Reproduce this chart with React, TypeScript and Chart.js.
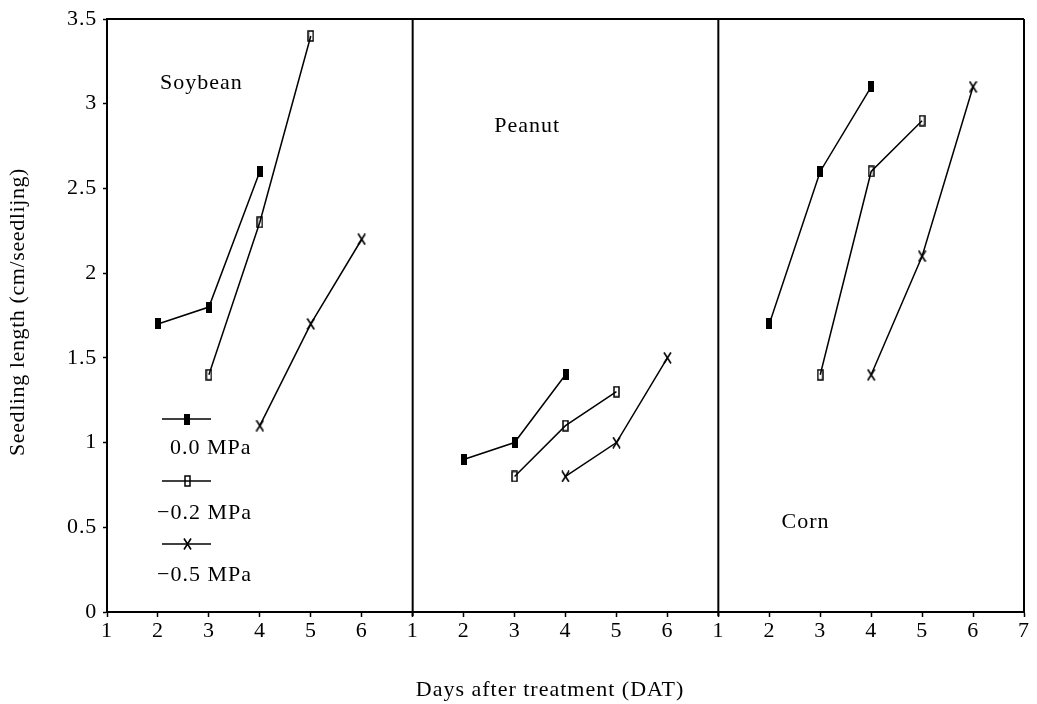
import React, { useEffect, useRef } from 'react';
import { Chart, registerables } from 'chart.js';

Chart.register(...registerables);

// ---- data ----
const panelNames = ['Soybean', 'Peanut', 'Corn'];
const seriesLabels = ['0.0 MPa', '\u22120.2 MPa', '\u22120.5 MPa'];
const days00 = [2, 3, 4];
const days02 = [3, 4, 5];
const days05 = [4, 5, 6];
const soybean00 = [1.7, 1.8, 2.6];
const soybean02 = [1.4, 2.3, 3.4];
const soybean05 = [1.1, 1.7, 2.2];
const peanut00 = [0.9, 1.0, 1.4];
const peanut02 = [0.8, 1.1, 1.3];
const peanut05 = [0.8, 1.0, 1.5];
const corn00 = [1.7, 2.6, 3.1];
const corn02 = [1.4, 2.6, 2.9];
const corn05 = [1.4, 2.1, 3.1];
const xTickLabels = ['1', '2', '3', '4', '5', '6', '1', '2', '3', '4', '5', '6', '1', '2', '3', '4', '5', '6', '7'];
const yTickLabels = ['0', '0.5', '1', '1.5', '2', '2.5', '3', '3.5'];
const yMin = 0;
const yMax = 3.5;
const yStep = 0.5;
const daysPerPanel = 6;

const FONT = '"Liberation Serif", "DejaVu Serif", serif';

function makeMarker(kind: string): HTMLCanvasElement {
  const c = document.createElement('canvas');
  if (kind === 'filled') {
    c.width = 6; c.height = 11;
    const g = c.getContext('2d')!;
    g.fillStyle = '#000';
    g.fillRect(0, 0, 6, 11);
  } else if (kind === 'open') {
    c.width = 7; c.height = 12;
    const g = c.getContext('2d')!;
    g.strokeStyle = '#000';
    g.lineWidth = 1.5;
    g.strokeRect(1, 1, 5, 10);
  } else {
    c.width = 9; c.height = 12;
    const g = c.getContext('2d')!;
    g.strokeStyle = '#000';
    g.lineWidth = 1.6;
    g.beginPath();
    g.moveTo(1, 0.5); g.lineTo(8, 11.5);
    g.moveTo(8, 0.5); g.lineTo(1, 11.5);
    g.stroke();
  }
  return c;
}

function drawSpaced(ctx: CanvasRenderingContext2D, text: string, x: number, y: number, spacing: number) {
  (ctx as any).letterSpacing = spacing + 'px';
  ctx.fillText(text, x, y);
}

export default function App() {
  const ref = useRef<HTMLCanvasElement | null>(null);

  useEffect(() => {
    const canvas = ref.current!;
    const markers = [makeMarker('filled'), makeMarker('open'), makeMarker('cross')];
    const panelData = [
      [soybean00, soybean02, soybean05],
      [peanut00, peanut02, peanut05],
      [corn00, corn02, corn05],
    ];
    const dayArrays = [days00, days02, days05];

    const datasets: any[] = [];
    panelData.forEach((series, p) => {
      series.forEach((vals, s) => {
        datasets.push({
          label: panelNames[p] + ' ' + seriesLabels[s],
          data: vals.map((v, i) => ({ x: dayArrays[s][i] + p * daysPerPanel, y: v })),
          borderColor: '#000',
          borderWidth: 1.5,
          pointStyle: markers[s],
          pointRadius: 5,
          showLine: true,
          fill: false,
        });
      });
    });

    const overlay = {
      id: 'overlay',
      beforeDraw(chart: any) {
        chart.ctx.letterSpacing = '0.8px';
      },
      afterDraw(chart: any) {
        const { ctx, chartArea: a, scales } = chart;
        const x = scales.x;
        const y = scales.y;
        ctx.save();
        ctx.strokeStyle = '#000';
        ctx.lineWidth = 2;
        ctx.beginPath();
        ctx.moveTo(a.left, a.top); ctx.lineTo(a.right, a.top);
        ctx.moveTo(a.right, a.top); ctx.lineTo(a.right, a.bottom);
        for (let p = 1; p < panelNames.length; p++) {
          const px = x.getPixelForValue(1 + p * daysPerPanel);
          ctx.moveTo(px, a.top); ctx.lineTo(px, a.bottom + 4);
        }
        ctx.stroke();

        ctx.fillStyle = '#000';
        ctx.font = '22px ' + FONT;
        ctx.textBaseline = 'middle';
        ctx.textAlign = 'left';
        // panel names
        const namePos = [[2.04, 3.12], [8.6, 2.87], [14.24, 0.53]];
        panelNames.forEach((n, i) => {
          drawSpaced(ctx, n, x.getPixelForValue(namePos[i][0]), y.getPixelForValue(namePos[i][1]), 1);
        });

        // legend
        const lx0 = a.left + 55;
        const lx1 = a.left + 104;
        const mx = a.left + 80;
        const lineYs = [419, 481, 544];
        const labelYs = [448, 513, 575];
        const labelXs = [a.left + 63, a.left + 50, a.left + 50];
        ctx.lineWidth = 1.5;
        seriesLabels.forEach((lab, i) => {
          ctx.beginPath();
          ctx.moveTo(lx0, lineYs[i]); ctx.lineTo(lx1, lineYs[i]);
          ctx.stroke();
          const m = markers[i];
          ctx.drawImage(m, Math.round(mx - m.width / 2), Math.round(lineYs[i] - m.height / 2));
          drawSpaced(ctx, lab, labelXs[i], labelYs[i], 1);
        });

        // axis titles
        ctx.textAlign = 'center';
        drawSpaced(ctx, 'Days after treatment (DAT)', 550, 690, 1);
        ctx.translate(18, 312);
        ctx.rotate(-Math.PI / 2);
        drawSpaced(ctx, 'Seedling length (cm/seedlijng)', 0, 0, 0.6);
        ctx.restore();
      },
    };

    const chart = new Chart(canvas, {
      type: 'scatter',
      data: { datasets },
      options: {
        responsive: false,
        animation: false,
        layout: { padding: { left: 0, right: 13, top: 19, bottom: 0 } },
        plugins: { legend: { display: false }, tooltip: { enabled: false } },
        scales: {
          x: {
            type: 'linear',
            min: 1,
            max: xTickLabels.length,
            afterBuildTicks: (s: any) => {
              s.ticks = xTickLabels.map((_, i) => ({ value: i + 1 }));
            },
            afterFit: (s: any) => { s.height = 92; },
            ticks: {
              autoSkip: false,
              maxRotation: 0,
              padding: 3,
              color: '#000',
              font: { family: FONT, size: 22, lineHeight: 1 },
              callback: (_v: any, i: number) => xTickLabels[i],
            },
            grid: { drawOnChartArea: false, tickLength: 5, tickColor: '#000', tickWidth: 1.5 },
            border: { color: '#000', width: 2 },
          },
          y: {
            type: 'linear',
            min: yMin,
            max: yMax,
            afterBuildTicks: (s: any) => {
              s.ticks = yTickLabels.map((_, i) => ({ value: yMin + i * yStep }));
            },
            afterFit: (s: any) => { s.width = 107; },
            ticks: {
              padding: 6,
              color: '#000',
              font: { family: FONT, size: 22, lineHeight: 1 },
              callback: (_v: any, i: number) => yTickLabels[i],
            },
            grid: { drawOnChartArea: false, tickLength: 4, tickColor: '#000', tickWidth: 1.5 },
            border: { color: '#000', width: 2 },
          },
        },
      },
      plugins: [overlay],
    });
    return () => chart.destroy();
  }, []);

  return (
    <div style={{ position: 'fixed', left: 0, top: 0, width: 1037, height: 704, background: '#fff' }}>
      <canvas ref={ref} width={1037} height={704} />
    </div>
  );
}
